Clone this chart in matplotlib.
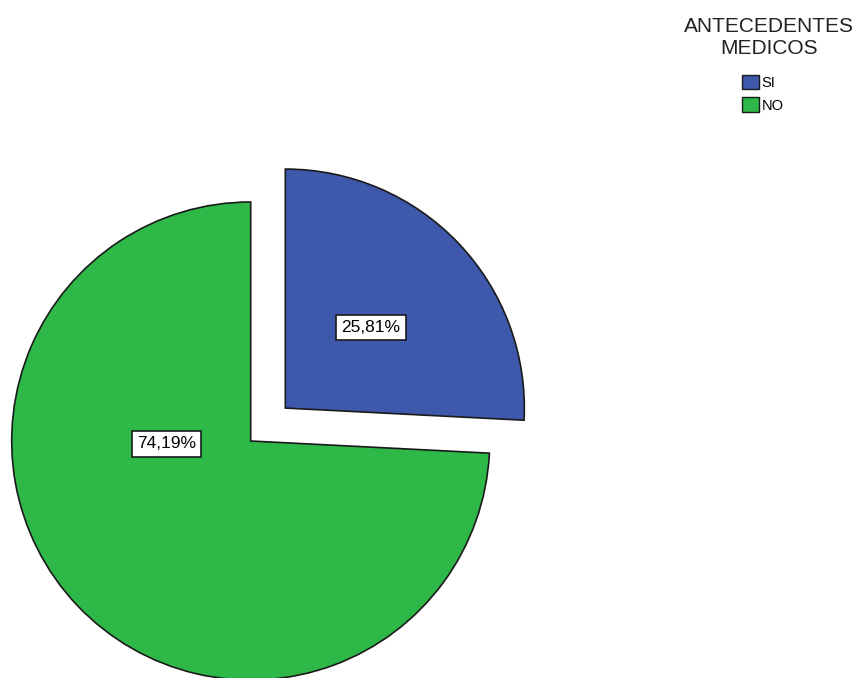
import matplotlib
matplotlib.use("Agg")
import matplotlib.pyplot as plt
from matplotlib.patches import Patch

categories = ["SI", "NO"]
values = [25.81, 74.19]
labels = ["25,81%", "74,19%"]
colors = ["#3E58AC", "#2EB848"]
legend_title = "ANTECEDENTES\nMEDICOS"

plt.rcParams['font.family'] = ['Liberation Sans', 'DejaVu Sans']

W, H = 861, 678
R = 239
fig = plt.figure(figsize=(W / 100, H / 100), dpi=100)
ax = fig.add_axes([0, 0, 1, 1])

wedges, _ = ax.pie(values, colors=colors, startangle=90, counterclock=False,
                   explode=[0.2 * R, 0.0], center=(250.7, -441), radius=R,
                   wedgeprops=dict(edgecolor='#1a1a1a', linewidth=1.2),
                   frame=True)
ax.set_xlim(0, W)
ax.set_ylim(-H, 0)
ax.set_aspect('equal')
ax.axis('off')

label_pos = [(371, -327.5), (166.5, -444)]
for lab, (x, y) in zip(labels, label_pos):
    ax.text(x, y, lab, ha='center', va='center', fontsize=12.5, color='black',
            bbox=dict(boxstyle='square,pad=0.3', facecolor='white',
                      edgecolor='#1a1a1a', linewidth=1.2))

fig.text(769 / W, 1 - 37 / H, legend_title, ha='center', va='center',
         fontsize=15, color='#222222', multialignment='center',
         linespacing=1.2)

handles = [Patch(facecolor=c, edgecolor='#1a1a1a', linewidth=1.0) for c in colors]
leg = fig.legend(handles, categories, loc='upper left',
                 bbox_to_anchor=(742 / W, 1 - 75 / H), frameon=False,
                 fontsize=10.5, handlelength=1.15,
                 handleheight=1.15, handletextpad=0.2, labelspacing=0.5,
                 borderpad=0.0, borderaxespad=0.0)

fig.savefig("out.png", dpi=100, facecolor='white')
